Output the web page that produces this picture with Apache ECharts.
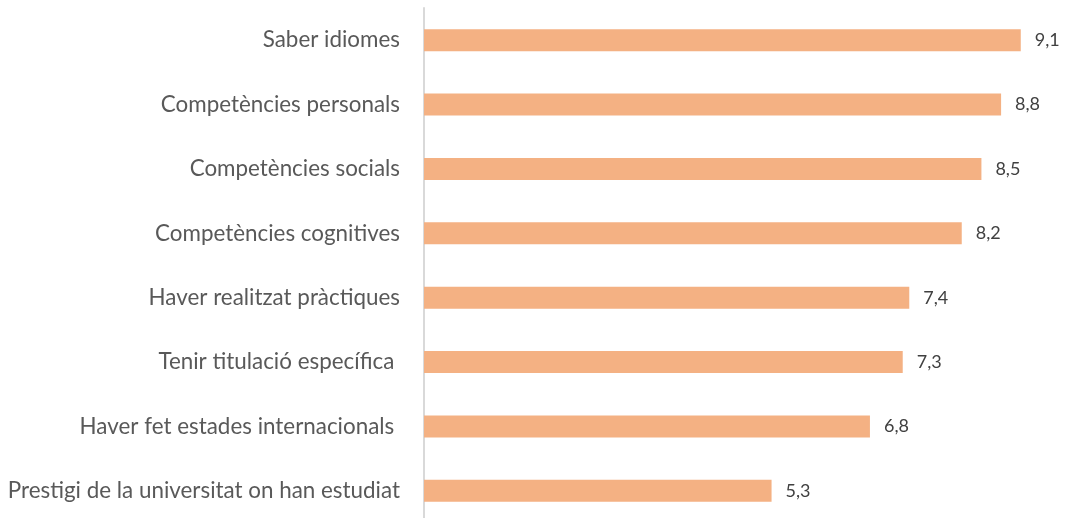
<!DOCTYPE html>
<html>
<head>
<meta charset="utf-8">
<script src="https://cdn.jsdelivr.net/npm/echarts@6/dist/echarts.min.js"></script>
<style>
  html, body { margin: 0; padding: 0; background: #fff; overflow: hidden; }
  #chart { width: 1065px; height: 525px; }
</style>
</head>
<body>
<div id="chart"></div>
<script>
// categories from bottom to top (ECharts category y axis starts at the bottom)
const categories = [
  'Prestigi de la universitat on han estudiat',
  'Haver fet estades internacionals ',
  'Tenir titulació específica ',
  'Haver realitzat pràctiques',
  'Competències cognitives',
  'Competències socials',
  'Competències personals',
  'Saber idiomes',
]
const values = [5.3, 6.8, 7.3, 7.4, 8.2, 8.5, 8.8, 9.1]

// the div is a bit taller than the window so the axis line runs off the bottom edge
const chart = echarts.init(document.getElementById('chart'))

chart.setOption({
  backgroundColor: '#ffffff',
  animation: false,
  textStyle: { fontFamily: 'Lato, sans-serif' },
  grid: { left: 424, right: 18, top: 8, bottom: 2, containLabel: false },
  xAxis: {
    type: 'value',
    min: 0,
    max: 9.5,
    show: false,
  },
  yAxis: {
    type: 'category',
    data: categories,
    axisLine: { show: true, lineStyle: { color: '#d9d9d9', width: 2 } },
    axisTick: { show: false },
    axisLabel: {
      color: '#595959',
      fontSize: 22.4,
      margin: 24,
      fontFamily: 'Lato, sans-serif',
    },
  },
  series: [
    {
      type: 'bar',
      data: values,
      barWidth: 22,
      itemStyle: { color: '#f4b183' },
      label: {
        show: true,
        position: 'right',
        distance: 14,
        color: '#404040',
        fontSize: 18,
        fontFamily: 'Lato, sans-serif',
        formatter: (p) => p.value.toFixed(1).replace('.', ','),
      },
    },
  ],
})
</script>
</body>
</html>
